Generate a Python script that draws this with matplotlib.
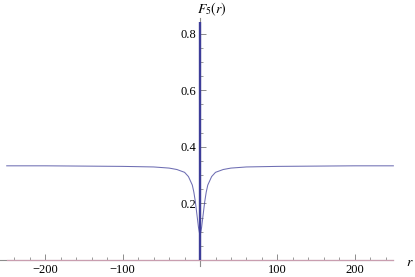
import matplotlib
matplotlib.use('Agg')
import matplotlib.pyplot as plt
from matplotlib.ticker import FixedLocator

plt.rcParams['font.family'] = ['Liberation Serif', 'DejaVu Serif']
plt.rcParams['mathtext.fontset'] = 'stix'

# values
r_vals = [-250, -200, -150, -100, -60, -40, -30, -20, -15, -10, -8, -6, -4, -2, 0,
          2, 4, 6, 8, 10, 15, 20, 30, 40, 60, 100, 150, 200, 250]
F5_vals = [0.333, 0.333, 0.332, 0.331, 0.329, 0.325, 0.320, 0.310, 0.295, 0.265, 0.240, 0.205, 0.160, 0.115, 0.085,
           0.115, 0.160, 0.205, 0.240, 0.265, 0.295, 0.310, 0.320, 0.325, 0.329, 0.331, 0.332, 0.333, 0.333]
spike_r = [0, 0]
spike_F = [0.0, 0.84]
zero_r = [-250, 250]
zero_F = [0.0, 0.0]

xticks = [-200, -100, 100, 200]
yticks = [0.2, 0.4, 0.6, 0.8]

curve_color = (0.24, 0.24, 0.6)
axis_color = '#8c8c8c'

fig = plt.figure(figsize=(4.15, 2.77), dpi=100)
ax = fig.add_axes([0, 0, 1, 1])

ax.plot(r_vals, F5_vals, color=curve_color, lw=0.75, alpha=0.75, zorder=4)
ax.plot(spike_r, spike_F, color=curve_color, lw=1.7, zorder=5, solid_capstyle='butt')
ax.plot(zero_r, zero_F, color='#d9a3ba', lw=0.9, alpha=0.8, zorder=3)

ax.set_xlim(-258.7, 278)
ax.set_ylim(-0.0599, 0.919)

for s in ['top', 'right']:
    ax.spines[s].set_visible(False)
ax.spines['left'].set_position(('data', 0))
ax.spines['bottom'].set_position(('data', 0))
ax.spines['left'].set_bounds(-0.02, 0.855)
ax.spines['bottom'].set_bounds(-258.7, 250)
for s in ['left', 'bottom']:
    ax.spines[s].set_color(axis_color)
    ax.spines[s].set_linewidth(0.8)

ax.xaxis.set_major_locator(FixedLocator(xticks))
ax.xaxis.set_minor_locator(FixedLocator([v for v in range(-240, 260, 20) if v % 100 != 0]))
ax.yaxis.set_major_locator(FixedLocator(yticks))
ax.yaxis.set_minor_locator(FixedLocator([v / 100 for v in range(5, 85, 5) if v % 20 != 0]))

ax.tick_params(axis='both', which='major', direction='in', length=4, width=0.7,
               color=axis_color, labelsize=9, pad=3)
ax.tick_params(axis='both', which='minor', direction='in', length=2.3, width=0.6,
               color=axis_color)
ax.set_xticklabels(['\u2212200', '\u2212100', '100', '200'])
ax.set_yticklabels(['0.2', '0.4', '0.6', '0.8'])

fig.text(410 / 415, 1 - 262 / 277, r'$r$', fontsize=10, ha='center', va='center')
fig.text(212 / 415, 1 - 9 / 277, r'$F_5(r)$', fontsize=10, ha='center', va='center')

fig.savefig('out.png', dpi=100)
